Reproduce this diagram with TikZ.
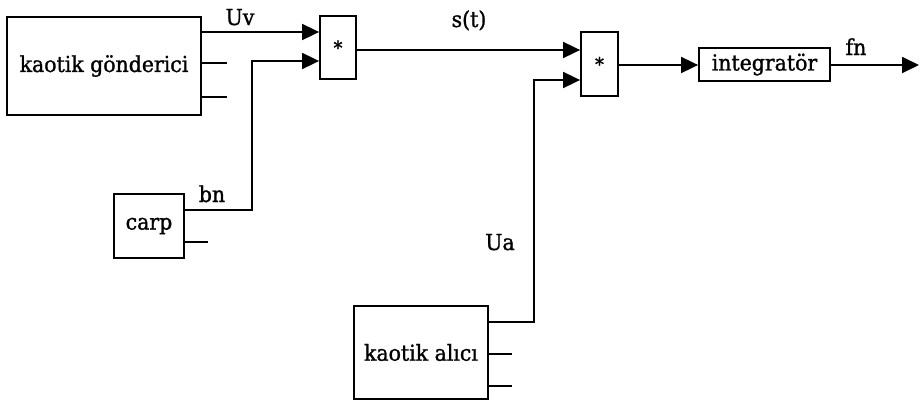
\documentclass[tikz,border=0pt]{standalone}
\usepackage{fontspec}
\setmainfont{DejaVu Serif}[FakeStretch=0.93, FakeBold=1.2]
\usetikzlibrary{arrows.meta}
\begin{document}
\begin{tikzpicture}[x=1pt,y=-1pt, line width=1.8pt,
  box/.style={draw, inner sep=0pt, font=\fontsize{22}{24}\selectfont},
  mult/.style={box, font=\fontsize{19}{21}\selectfont},
  lbl/.style={font=\fontsize{22}{24}\selectfont, anchor=base, inner sep=0pt},
  sig/.style={-{Triangle[length=17pt,width=16pt]}}]
\useasboundingbox (0,0) rectangle (919,402);
% blocks
\node[box, minimum width=194pt, minimum height=98pt] (G) at (104,66) {kaotik gönderici};
\node[mult, minimum width=36pt, minimum height=63pt] (M1) at (338,47.5) {*};
\node[box, minimum width=70pt, minimum height=64pt] (C) at (149,226) {carp};
\node[mult, minimum width=37pt, minimum height=64pt] (M2) at (599.5,64) {*};
\node[box, minimum width=131pt, minimum height=33pt] (I) at (764.5,64.5) {integratör};
\node[box, minimum width=134pt, minimum height=93pt] (A) at (421,352.5) {kaotik alıcı};
% labels
\node[lbl] (uv) at (240,25) {Uv};
\node[lbl] (st) at (469,27) {s(t)};
\node[lbl] (bn) at (212,202) {bn};
\node[lbl] (ua) at (500,250) {Ua};
\node[lbl] (fn) at (856,55) {fn};
% coordinates
\coordinate (g2) at (227,63);
\coordinate (g3) at (227,97);
\coordinate (c2) at (208,242);
\coordinate (a2) at (512,354);
\coordinate (a3) at (512,386);
\coordinate (bnk) at (252,61);
\coordinate (uak) at (534,80);
\coordinate (out) at (919,65);
% connectors
\draw[sig] (G.east |- 0,32) -- (M1.west |- 0,32);
\draw (G.east |- g2) -- (g2);
\draw (G.east |- g3) -- (g3);
\draw[sig] (C.east |- 0,210) -| (bnk) -- (M1.west |- bnk);
\draw (C.east |- c2) -- (c2);
\draw[sig] (M1.east |- 0,50) -- (M2.west |- 0,50);
\draw[sig] (A.east |- 0,322) -| (uak) -- (M2.west |- uak);
\draw (A.east |- a2) -- (a2);
\draw (A.east |- a3) -- (a3);
\draw[sig] (M2.east |- 0,65) -- (I.west |- 0,65);
\draw[sig] (I.east |- out) -- (out);
\end{tikzpicture}
\end{document}
